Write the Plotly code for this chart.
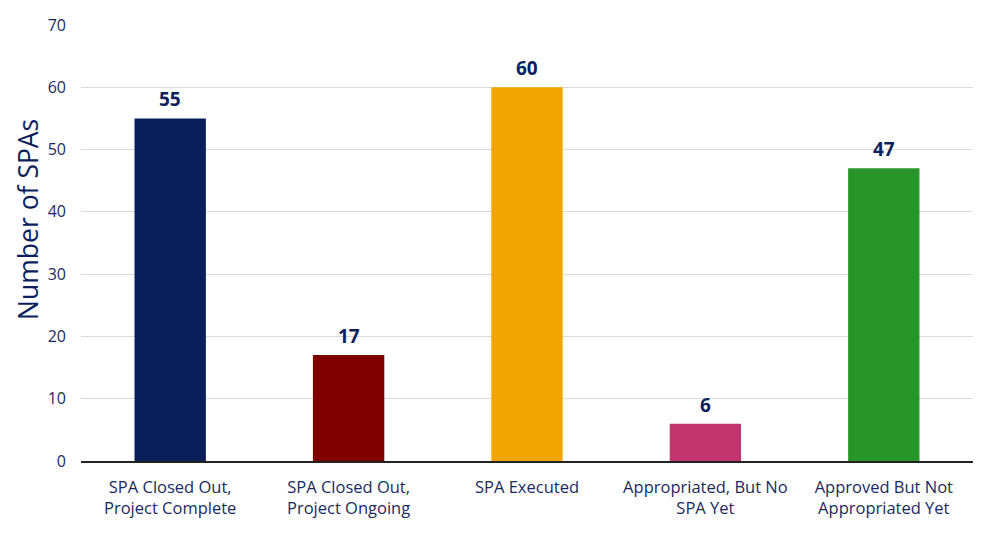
import plotly.graph_objects as go

categories = ["SPA Closed Out,<br>Project Complete", "SPA Closed Out,<br>Project Ongoing",
              "SPA Executed", "Appropriated, But No<br>SPA Yet", "Approved But Not<br>Appropriated Yet"]
values = [55, 17, 60, 6, 47]
colors = ["#081F5B", "#7F0000", "#F0A500", "#C0356C", "#28952A"]
y_ticks = [0, 10, 20, 30, 40, 50, 60, 70]
y_title = "Number of SPAs"

navy = "#1B2A5E"
fig = go.Figure(go.Bar(
    x=categories, y=values, marker=dict(color=colors, line=dict(width=0)),
    width=0.4, hoverinfo="x+y",
))
for c, v in zip(categories, values):
    fig.add_annotation(x=c, y=v, text=f"<b>{v}</b>", showarrow=False, yanchor="bottom",
                       yshift=4, font=dict(family="Open Sans, sans-serif", size=19, color="#0A1F5C"))
fig.add_annotation(x=0, y=0.553, xref="paper", yref="paper", text=y_title, textangle=-90,
                   showarrow=False, xanchor="center", yanchor="middle", xshift=-53,
                   font=dict(family="Open Sans, sans-serif", size=26.5, color="#0A1F5C"))
fig.update_layout(
    width=987, height=550, plot_bgcolor="white", paper_bgcolor="white",
    margin=dict(l=73, r=22, t=17, b=97, autoexpand=False),
    font=dict(family="Open Sans, sans-serif", color=navy, size=15),
    showlegend=False,
)
fig.update_yaxes(range=[0, 70], tickvals=y_ticks, gridcolor="#D9D9D9", gridwidth=1,
                 zeroline=False, showline=False, ticks="", tickfont=dict(size=16, color=navy),
                 ticklabelstandoff=14, automargin=False)
fig.update_xaxes(showline=True, linecolor="#222222", linewidth=1.5, ticks="", automargin=False,
                 ticklabelstandoff=10, tickfont=dict(size=16.5, color=navy))
fig.write_html("out.html")
